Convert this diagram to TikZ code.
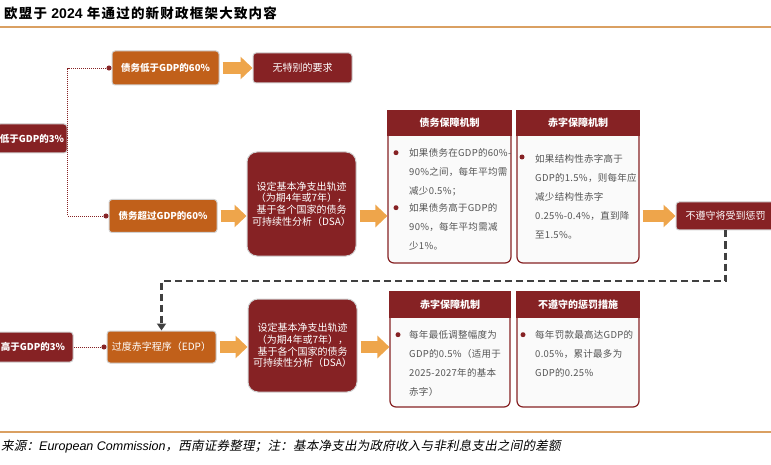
\documentclass[tikz,border=0pt]{standalone}
\usepackage{fontspec}
\setmainfont{Noto Sans CJK SC}
\newfontfamily\titlefont[LetterSpace=9]{Noto Sans CJK SC}
\newfontfamily\bodyfont[LetterSpace=3]{Noto Sans CJK SC}
\newfontfamily\notefont[FakeSlant=0.2,LetterSpace=2]{Noto Sans CJK SC}
\newfontfamily\arialfont{Liberation Sans}
\usetikzlibrary{arrows.meta,calc}
\definecolor{darkred}{RGB}{134,34,36}
\definecolor{boxorange}{RGB}{193,96,26}
\definecolor{arroworange}{RGB}{238,165,75}
\definecolor{ruletan}{RGB}{218,160,98}
\definecolor{bodygray}{RGB}{85,85,85}
\definecolor{dashgray}{RGB}{64,64,64}

\begin{document}
\begin{tikzpicture}[x=1pt,y=-1pt,
  redbox/.style={fill=darkred,draw=black!18,line width=1pt,text=white,rounded corners=3pt,inner sep=0pt,font=\bfseries\fontsize{9.5}{11}\selectfont},
  orangebox/.style={redbox,fill=boxorange},
  bigbox/.style={redbox,rounded corners=10pt,minimum width=109pt,align=center,font=\fontsize{10}{11.7}\selectfont},
  panel/.style={draw=darkred,line width=1.2pt,fill=black!2,rounded corners=6pt},
  panelhead/.style={draw=darkred,line width=1.2pt,fill=darkred,text=white,inner sep=0pt,anchor=north,minimum height=24pt,font=\bfseries\fontsize{10}{12}\selectfont},
  bullettext/.style={anchor=base west,inner sep=0pt,text width=112pt,align=left,text=bodygray,font=\bodyfont\fontsize{9.5}{19}\selectfont},
  bigarrow/.style={draw=arroworange,line width=12pt,-{Triangle[length=12pt,width=22pt]},shorten <=3pt},
  dotline/.style={draw=darkred,line width=0.9pt,dash pattern=on 1pt off 1pt,-{Circle[length=5pt]}},
  dashline/.style={draw=dashgray,line width=2.5pt,dash pattern=on 7pt off 4pt,-{Triangle[length=7pt,width=9pt]}}]
  \useasboundingbox (0,0) rectangle (771,465);
  \node[anchor=west,inner sep=0pt,font=\titlefont\bfseries\fontsize{13.5}{15}\selectfont] (title) at (4,13) {欧盟于 {\arialfont\bfseries\fontsize{14}{15}\selectfont 2024} 年通过的新财政框架大致内容};
  \draw[ruletan,line width=1.5pt] (0,27) -- (771,27);
  \draw[ruletan,line width=1.5pt] (0,432) -- (771,432);
  \node[anchor=west,inner sep=0pt,font=\notefont\fontsize{12.5}{14}\selectfont] (source) at (1,446) {来源：{\arialfont\itshape European Commission}，西南证券整理；注：基本净支出为政府收入与非利息支出之间的差额};

  \node[redbox,minimum width=70pt,minimum height=29pt] (lowdef) at (32,138.5) {低于GDP的3\%};
  \node[orangebox,minimum width=107pt,minimum height=34pt] (lowdebt) at (165.5,68) {债务低于GDP的60\%};
  \node[redbox,minimum width=99pt,minimum height=30pt,font=\fontsize{10}{12}\selectfont] (nospecial) at (302.5,68) {无特别的要求};
  \node[orangebox,minimum width=108pt,minimum height=33pt] (highdebt) at (163,216) {债务超过GDP的60\%};
  \node[bigbox,minimum height=104pt] (netpath) at (301.5,204) {设定基本净支出轨迹\\（为期4年或7年），\\基于各个国家的债务\\可持续性分析（DSA）};
  \node[panel,minimum width=123pt,minimum height=152pt] (debtsafe) at (449.5,187) {};
  \node[panelhead,minimum width=123pt] (debtsafehead) at (debtsafe.north) {债务保障机制};
  \node[panel,minimum width=122pt,minimum height=152pt] (deficitsafe) at (578,187) {};
  \node[panelhead,minimum width=122pt] (deficitsafehead) at (deficitsafe.north) {赤字保障机制};
  \node[redbox,minimum width=99pt,minimum height=28pt,font=\fontsize{10}{12}\selectfont] (penalty) at (725.5,216) {不遵守将受到惩罚};

  \node[redbox,minimum width=80pt,minimum height=30pt] (highdef) at (33,347) {高于GDP的3\%};
  \node[orangebox,minimum width=109pt,minimum height=32pt,font=\fontsize{10}{12}\selectfont] (edp) at (161.5,347) {过度赤字程序（EDP）};
  \node[bigbox,minimum height=93pt] (netpathb) at (302.5,345.5) {设定基本净支出轨迹\\（为期4年或7年），\\基于各个国家的债务\\可持续性分析（DSA）};
  \node[panel,minimum width=120pt,minimum height=115pt] (defsafe) at (450,349.5) {};
  \node[panelhead,minimum width=120pt,minimum height=25pt] (defsafehead) at (defsafe.north) {赤字保障机制};
  \node[panel,minimum width=122pt,minimum height=115pt] (sanction) at (578,349.5) {};
  \node[panelhead,minimum width=122pt,minimum height=25pt] (sanctionhead) at (sanction.north) {不遵守的惩罚措施};

  \node[bullettext] (debtsafea) at (409,156.7) {如果债务在GDP的60\%-\\90\%之间，每年平均需\\减少0.5\%；};
  \node[bullettext] (debtsafeb) at (409,211.7) {如果债务高于GDP的\\90\%，每年平均需减\\少1\%。};
  \node[bullettext] (deficitsafea) at (535,163) {如果结构性赤字高于\\GDP的1.5\%，则每年应\\减少结构性赤字\\0.25\%-0.4\%，直到降\\至1.5\%。};
  \node[bullettext] (defsafea) at (409,338.7) {每年最低调整幅度为\\GDP的0.5\%（适用于\\2025-2027年的基本\\赤字）};
  \node[bullettext] (sanctiona) at (535,338.7) {每年罚款最高达GDP的\\0.05\%，累计最多为\\GDP的0.25\%};
  \fill[darkred] ([xshift=-13pt,yshift=4pt]debtsafea.base west) circle (2.5pt);
  \fill[darkred] ([xshift=-13pt,yshift=4pt]debtsafeb.base west) circle (2.5pt);
  \fill[darkred] ([xshift=-13pt,yshift=6pt]deficitsafea.base west) circle (2.5pt);
  \fill[darkred] ([xshift=-11pt,yshift=4pt]defsafea.base west) circle (2.5pt);
  \fill[darkred] ([xshift=-12pt,yshift=4pt]sanctiona.base west) circle (2.5pt);

  \draw[bigarrow] (lowdebt.east) -- (nospecial.west);
  \draw[bigarrow] (highdebt.east) -- (highdebt.east -| netpath.west);
  \draw[bigarrow] (netpath.east |- highdebt.east) -- (highdebt.east -| debtsafe.west);
  \draw[bigarrow] (deficitsafe.east |- penalty.west) -- (penalty.west);
  \draw[bigarrow] (edp.east) -- (edp.east -| netpathb.west);
  \draw[bigarrow] (netpathb.east |- edp.east) -- (edp.east -| defsafe.west);

  \draw[dotline] (lowdef.east) |- (lowdebt.west);
  \draw[dotline] (lowdef.east) |- (highdebt.west);
  \draw[dotline] (highdef.east) -- (edp.west);

  \coordinate (bend) at (0,281);
  \draw[dashline] (penalty.south) -- (penalty.south |- bend) -| (edp.north);
\end{tikzpicture}
\end{document}
